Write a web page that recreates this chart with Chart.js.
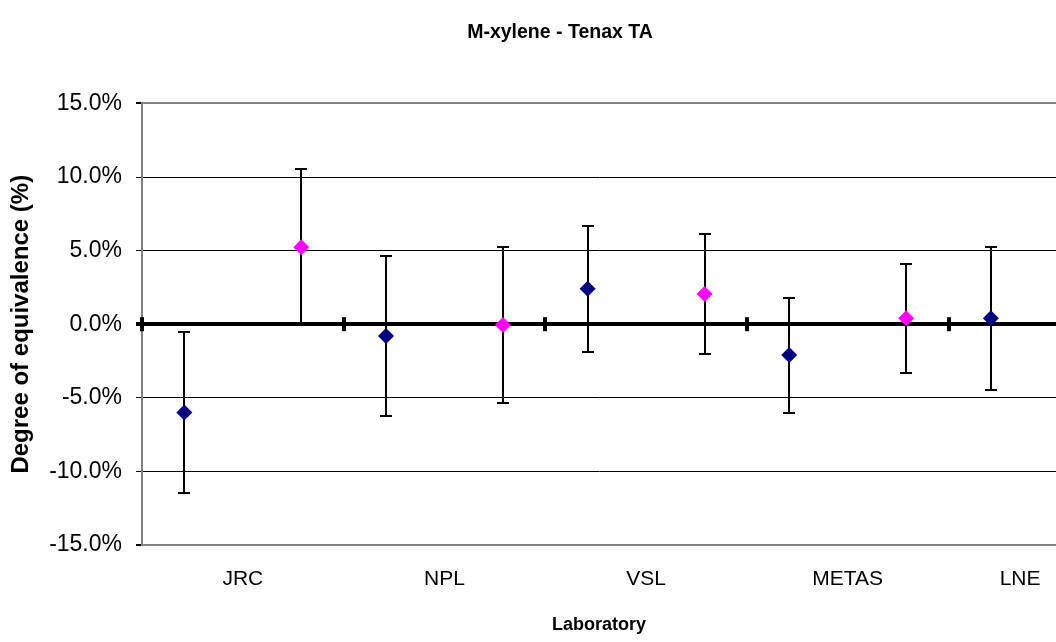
<!DOCTYPE html>
<html>
<head>
<meta charset="utf-8">
<script src="https://cdn.jsdelivr.net/npm/chart.js@4.4.1/dist/chart.umd.min.js"></script>
<style>
  html, body { margin: 0; padding: 0; background: #fff; overflow: hidden; }
  #wrap { width: 1056px; height: 642px; overflow: hidden; }
</style>
</head>
<body>
<div id="wrap"><canvas id="grafico" width="1120" height="642"></canvas></div>
<script>
// laboratorios
let labs = ['JRC', 'NPL', 'VSL', 'METAS', 'LNE'];

// serie azul (primer valor de cada laboratorio) y su incertidumbre
let azulVal = [-6.0, -0.8, 2.4, -2.1, 0.4];
let azulErr = [5.5, 5.45, 4.3, 3.9, 4.85];

// serie rosa (segundo valor), LNE no tiene
let rosaVal = [5.22, -0.05, 2.05, 0.4];
let rosaErr = [5.3, 5.3, 4.1, 3.72];

let yTicks = [-15, -10, -5, 0, 5, 10, 15];

let fuente = "'Liberation Sans', Arial, sans-serif";

// puntos con x = indice del laboratorio + desplazamiento dentro de la categoria
let puntosAzul = azulVal.map((v, i) => ({ x: i + 0.21, y: v, e: azulErr[i] }));
let puntosRosa = rosaVal.map((v, i) => ({ x: i + 0.79, y: v, e: rosaErr[i] }));

// barras de error y marcas sobre la linea del cero
const extras = {
  id: 'extras',
  beforeDatasetsDraw(chart) {
    const ctx = chart.ctx;
    const x = chart.scales.x, y = chart.scales.y;
    ctx.save();
    ctx.fillStyle = '#000';
    const y0 = y.getPixelForValue(0);
    for (let i = 0; i < labs.length; i++) {
      const px = Math.round(x.getPixelForValue(i));
      ctx.fillRect(px - 2, y0 - 7, 4, 14);
    }
    ctx.strokeStyle = '#000';
    ctx.lineWidth = 2;
    chart.data.datasets.forEach(ds => {
      ds.data.forEach(p => {
        const px = Math.round(x.getPixelForValue(p.x));
        const arriba = Math.round(y.getPixelForValue(p.y + p.e));
        const abajo = Math.round(y.getPixelForValue(p.y - p.e));
        ctx.beginPath();
        ctx.moveTo(px, arriba); ctx.lineTo(px, abajo);
        ctx.moveTo(px - 6, arriba); ctx.lineTo(px + 6, arriba);
        ctx.moveTo(px - 6, abajo); ctx.lineTo(px + 6, abajo);
        ctx.stroke();
      });
    });
    ctx.restore();
  }
};

const ctx = document.getElementById('grafico').getContext('2d');
const chart = new Chart(ctx, {
  type: 'scatter',
  data: {
    datasets: [
      {
        label: 'azul',
        data: puntosAzul,
        xAxisID: 'x',
        yAxisID: 'y',
        pointStyle: 'rectRot',
        pointRadius: 8,
        backgroundColor: '#000080',
        borderColor: '#000080',
        borderWidth: 0
      },
      {
        label: 'rosa',
        data: puntosRosa,
        xAxisID: 'x',
        yAxisID: 'y',
        pointStyle: 'rectRot',
        pointRadius: 8,
        backgroundColor: '#FF00FF',
        borderColor: '#FF00FF',
        borderWidth: 0
      }
    ]
  },
  options: {
    responsive: false,
    animation: false,
    devicePixelRatio: 1,
    layout: { padding: { left: 0, right: 0, top: 0, bottom: 6 } },
    plugins: {
      legend: { display: false },
      tooltip: { enabled: false },
      title: {
        display: true,
        text: 'M-xylene - Tenax TA',
        color: '#000',
        font: { family: fuente, size: 19.5, weight: 'bold' },
        padding: { top: 21, bottom: 59 }
      }
    },
    scales: {
      x: {
        type: 'linear',
        min: 0,
        max: 4.533,
        grid: { display: false, drawTicks: false },
        border: { color: '#808080', width: 2 },
        afterBuildTicks: s => {
          // la ultima etiqueta se corre a la izquierda para caber, como en el original
          s.ticks = labs.map((l, i) => ({ value: Math.min(i + 0.5, 4.355) }));
        },
        afterFit: s => { s.height = 91; },
        ticks: {
          autoSkip: false,
          maxRotation: 0,
          padding: 22,
          color: '#000',
          font: { family: fuente, size: 21 },
          callback: (v, i) => labs[i]
        },
        title: {
          display: true,
          text: 'Laboratory',
          color: '#000',
          font: { family: fuente, size: 18, weight: 'bold' },
          padding: { top: 10, bottom: 0 }
        }
      },
      y: {
        min: -15,
        max: 15,
        afterBuildTicks: s => { s.ticks = yTicks.map(v => ({ value: v })); },
        afterFit: s => { s.width = 142; },
        grid: {
          color: c => (Math.abs(c.tick.value) === 15 ? '#808080' : '#000'),
          tickColor: '#000',
          lineWidth: c => (c.tick.value === 0 ? 4 : (Math.abs(c.tick.value) === 15 ? 2 : 1)),
          tickLength: 6
        },
        border: { color: '#808080', width: 2 },
        ticks: {
          padding: 14,
          color: '#000',
          font: { family: fuente, size: 23 },
          callback: v => v.toFixed(1) + '%'
        },
        title: {
          display: true,
          text: 'Degree of equivalence (%)',
          color: '#000',
          font: { family: fuente, size: 24, weight: 'bold' },
          padding: { top: 7, bottom: 0 }
        }
      },
      // eje vacio a la derecha: deja el area de trazado terminar en el borde de la ventana
      relleno: {
        type: 'linear',
        axis: 'y',
        position: 'right',
        min: 0,
        max: 1,
        grid: { display: false, drawTicks: false },
        border: { display: false },
        ticks: { display: false },
        afterFit: s => { s.width = 64; }
      }
    }
  },
  plugins: [extras]
});
</script>
</body>
</html>
